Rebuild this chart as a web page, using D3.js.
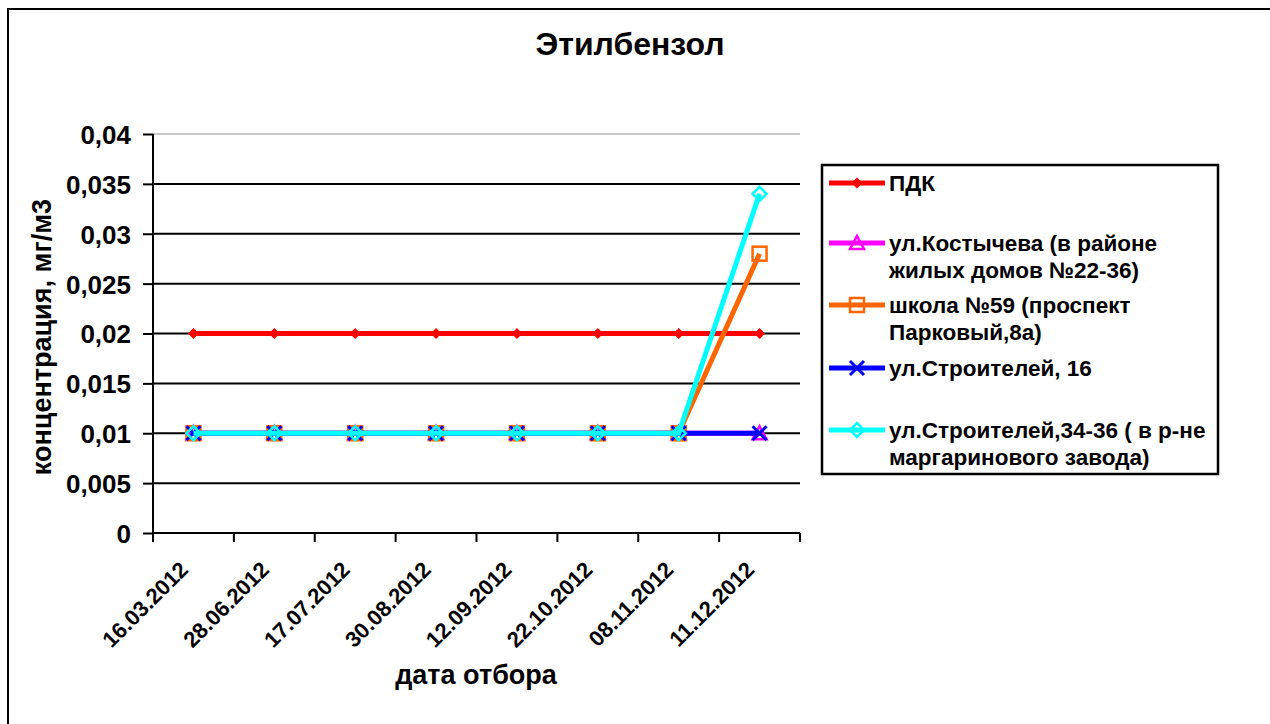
<!DOCTYPE html>
<html><head><meta charset="utf-8">
<script src="https://cdn.jsdelivr.net/npm/d3@7"></script>
<style>body{margin:0;background:#fff}svg{display:block;font-family:"Liberation Sans",Arial,sans-serif;font-weight:bold}</style>
</head><body><svg id="c" width="1270" height="724"></svg>
<script>
const categories = ["16.03.2012","28.06.2012","17.07.2012","30.08.2012","12.09.2012","22.10.2012","08.11.2012","11.12.2012"];
const yTicks = [0,0.005,0.01,0.015,0.02,0.025,0.03,0.035,0.04];
const pdk = [0.02,0.02,0.02,0.02,0.02,0.02,0.02,0.02];
const kostycheva = [0.01,0.01,0.01,0.01,0.01,0.01,0.01,0.01];
const school59 = [0.01,0.01,0.01,0.01,0.01,0.01,0.01,0.028];
const stroitel16 = [0.01,0.01,0.01,0.01,0.01,0.01,0.01,0.01];
const stroitel34 = [0.01,0.01,0.01,0.01,0.01,0.01,0.01,0.034];
const seriesNames = [["ПДК"],["ул.Костычева (в районе","жилых домов №22-36)"],["школа №59 (проспект","Парковый,8а)"],["ул.Строителей, 16"],["ул.Строителей,34-36 ( в р-не","маргаринового завода)"]];

const series = [
  {name:seriesNames[0], values:pdk, color:"#ff0000", marker:"smalldiamond"},
  {name:seriesNames[1], values:kostycheva, color:"#ff00ff", marker:"triangle"},
  {name:seriesNames[2], values:school59, color:"#ff6600", marker:"square"},
  {name:seriesNames[3], values:stroitel16, color:"#0000ff", marker:"x"},
  {name:seriesNames[4], values:stroitel34, color:"#00ffff", marker:"diamond"}
];

const svg = d3.select("#c");
svg.append("rect").attr("x",8).attr("y",9).attr("width",1300).attr("height",800).attr("fill","#fff").attr("stroke","#000").attr("stroke-width",2);

const L=153,R=800,T=134,B=533;
const x = d3.scaleBand().domain(categories).range([L,R]);
const y = d3.scaleLinear().domain([0,0.04]).range([B,T]);

svg.append("g").selectAll("line").data(yTicks.filter(d=>d>0)).join("line")
  .attr("x1",L).attr("x2",R).attr("y1",d=>y(d)).attr("y2",d=>y(d))
  .attr("stroke",d=>d===0.04?"#c8c8c8":"#000").attr("stroke-width",2);

const fmt = d=> String(+d.toFixed(3)).replace(".",",");
const ya = svg.append("g").attr("transform",`translate(${L},0)`)
  .call(d3.axisLeft(y).tickValues(yTicks).tickFormat(fmt).tickSize(10).tickPadding(12));
ya.select(".domain").attr("stroke","#000").attr("stroke-width",2).attr("d",`M0,${T}V${B}`);
ya.selectAll(".tick line").attr("stroke","#000").attr("stroke-width",2);
ya.selectAll("text").attr("font-size",26).attr("font-weight","bold").attr("fill","#000")
  .attr("font-family","Liberation Sans, Arial").attr("dy","0.36em");

const xa = svg.append("g").attr("transform",`translate(0,${B})`)
  .call(d3.axisBottom(x).tickSize(0).tickFormat(""));
xa.select(".domain").attr("stroke","#000").attr("stroke-width",2).attr("d",`M${L},0H${R}`);
const bounds = categories.map(c=>x(c)).concat([R]);
xa.selectAll(".bt").data(bounds).join("line").attr("class","bt")
  .attr("x1",d=>d).attr("x2",d=>d).attr("y1",0).attr("y2",9).attr("stroke","#000").attr("stroke-width",2);
xa.selectAll(".lbl").data(categories).join("text").attr("class","lbl")
  .attr("transform",d=>`translate(${x(d)+x.bandwidth()/2-4},38) rotate(-45)`)
  .attr("text-anchor","end").attr("font-size",22).attr("font-weight","bold").attr("fill","#000")
  .text(d=>d);

const cx = d=>x(d)+x.bandwidth()/2;
const line = d3.line().x((d,i)=>cx(categories[i])).y(d=>y(d));

function marker(g, type, color, px, py){
  if(type==="smalldiamond"){
    g.append("path").attr("d",`M${px},${py-5.5}L${px+5.5},${py}L${px},${py+5.5}L${px-5.5},${py}Z`).attr("fill",color);
  } else if(type==="triangle"){
    g.append("path").attr("d",`M${px},${py-7}L${px+7},${py+6}L${px-7},${py+6}Z`).attr("fill","none").attr("stroke",color).attr("stroke-width",2.5);
  } else if(type==="square"){
    g.append("rect").attr("x",px-7).attr("y",py-7).attr("width",14).attr("height",14).attr("fill","none").attr("stroke",color).attr("stroke-width",2.5);
  } else if(type==="x"){
    g.append("path").attr("d",`M${px-7},${py-7}L${px+7},${py+7}M${px+7},${py-7}L${px-7},${py+7}`).attr("stroke",color).attr("stroke-width",3);
  } else if(type==="diamond"){
    g.append("path").attr("d",`M${px},${py-7}L${px+7},${py}L${px},${py+7}L${px-7},${py}Z`).attr("fill","none").attr("stroke",color).attr("stroke-width",2.5);
  }
}

series.forEach(s=>{
  const g = svg.append("g");
  g.append("path").attr("d",line(s.values)).attr("fill","none").attr("stroke",s.color).attr("stroke-width",5);
  s.values.forEach((v,i)=>marker(g,s.marker,s.color,cx(categories[i]),y(v)));
});

svg.append("text").attr("x",630).attr("y",55).attr("text-anchor","middle").attr("font-size",32).attr("fill","#000").text("Этилбензол");
svg.append("text").attr("x",476).attr("y",684).attr("text-anchor","middle").attr("font-size",27).attr("fill","#000").text("дата отбора");
svg.append("text").attr("transform","translate(51,337) rotate(-90)").attr("text-anchor","middle").attr("font-size",27).attr("fill","#000").text("концентрация, мг/м3");

const lg = svg.append("g");
lg.append("rect").attr("x",822).attr("y",165).attr("width",396).attr("height",309).attr("fill","#fff").attr("stroke","#000").attr("stroke-width",2.5);
const legendY = [183,243,305,368,430];
series.forEach((s,i)=>{
  const ly = legendY[i];
  lg.append("line").attr("x1",829).attr("x2",885).attr("y1",ly).attr("y2",ly).attr("stroke",s.color).attr("stroke-width",5);
  marker(lg,s.marker,s.color,857,ly);
  s.name.forEach((t,j)=>{
    lg.append("text").attr("x",889).attr("y",ly+8+j*27).attr("font-size",22.5).attr("fill","#000").text(t);
  });
});
</script></body></html>
